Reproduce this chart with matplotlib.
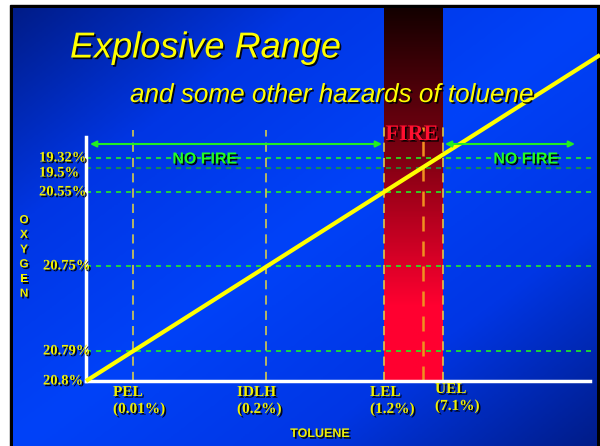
import numpy as np
import matplotlib.pyplot as plt
import matplotlib.patheffects as pe
from matplotlib.colors import LinearSegmentedColormap

# oxygen levels (label, height on the diagram above the origin)
oxygen_labels = ['20.8%', '20.79%', '20.75%', '20.55%', '19.5%', '19.32%']
oxygen_height = [0, 30, 115, 189, 213, 223]

# toluene markers (label, distance along the axis)
toluene_labels = ['PEL\n(0.01%)', 'IDLH\n(0.2%)', 'LEL\n(1.2%)', 'UEL\n(7.1%)']
toluene_pos = [47, 180, 298, 357]
o2_195_pos = 337  # where the line crosses 19.5%

# the yellow line
line_x = [0, 514]
line_y = [0, 326]

fig = plt.figure(figsize=(6, 4.46), dpi=100)
fig.patch.set_facecolor('white')
ax = fig.add_axes([0, 0, 1, 1])
ax.set_xlim(-86, 514)
ax.set_ylim(-65, 381)
ax.axis('off')

shadow = [pe.withSimplePatchShadow(offset=(1.2, -1.2), shadow_rgbFace='black', alpha=0.9)]

# slide frame and background
ax.add_patch(plt.Rectangle((-76, -65), 590, 441, color='black', zorder=0))
W, H = 300, 220
xx, yy = np.meshgrid(np.linspace(0, 1, W), np.linspace(0, 1, H))
u = np.abs(xx + yy - 1)
bg_cmap = LinearSegmentedColormap.from_list('bg', ['#0042f8', '#0036e4', '#001c88'])
ax.imshow(u, cmap=bg_cmap, extent=(-73, 511, -65, 373), origin='upper',
          aspect='auto', zorder=1, vmin=0, vmax=1)

# fire band
fire_cmap = LinearSegmentedColormap.from_list('fire', [(0, '#ff0030'), (0.2, '#ff0030'),
                                                      (0.6, '#800012'), (1, '#140000')])
grad = np.linspace(0, 1, 200).reshape(-1, 1)
ax.imshow(grad, cmap=fire_cmap, extent=(toluene_pos[2], toluene_pos[3], 0, 373),
          origin='lower', aspect='auto', zorder=2)

# horizontal dashed oxygen lines
for lab, h in zip(oxygen_labels[1:], oxygen_height[1:]):
    c = '#1a9a3a' if lab == '19.5%' else '#22ee22'
    ax.plot([0, 509], [h, h], ls=(0, (3, 3)), color=c, lw=1.2, zorder=3)

# vertical dashed marker lines
for name, x in zip(toluene_labels, toluene_pos):
    top = 251 if x < 250 else 254
    ax.plot([x, x], [0, top], ls=(0, (6, 4)), color='#e8d840', lw=1.1, zorder=3)
ax.plot([o2_195_pos, o2_195_pos], [0, 254], ls=(0, (6, 4)), color='#f09020', lw=1.8, zorder=3)

# axes lines
ax.plot([0, 0], [0, 244], color='white', lw=2.5, zorder=4)
ax.plot([0, 504], [0, 0], color='white', lw=2.5, zorder=4)

# main line
ax.plot(line_x, line_y, color='#ffff00', lw=3, zorder=5, solid_capstyle='butt')

# arrows
arr = dict(arrowstyle='<|-|>', color='#22ee22', lw=1.5, mutation_scale=9, shrinkA=0, shrinkB=0)
ax.annotate('', xy=(4, 237), xytext=(296, 237), arrowprops=arr, zorder=5)
ax.annotate('', xy=(359, 237), xytext=(489, 237), arrowprops=arr, zorder=5)

ax.text(119, 222, 'NO FIRE', color='#22ff22', fontsize=11.5, fontweight='bold',
        family='Liberation Sans', ha='center', va='center', zorder=6, path_effects=shadow)
ax.text(440, 222, 'NO FIRE', color='#22ff22', fontsize=11.5, fontweight='bold',
        family='Liberation Sans', ha='center', va='center', zorder=6, path_effects=shadow)
ax.text(326, 246, 'FIRE', color='#ff1030', fontsize=16, fontweight='bold',
        family='Liberation Serif', ha='center', va='center', zorder=6, path_effects=shadow)

# oxygen labels (left aligned, upper group slightly further left)
for lab, h in zip(oxygen_labels, oxygen_height):
    dy = -5 if lab == '19.5%' else 0
    x0 = -47 if h > 150 else -43
    ax.text(x0, h + dy, lab, color='#f0f000', fontsize=10.5, fontweight='bold',
            family='Liberation Serif', ha='left', va='center', zorder=6, path_effects=shadow)

# toluene labels
label_shift = [-20, -29, -14, -8]
for lab, x, dx in zip(toluene_labels, toluene_pos, label_shift):
    top = -2 if lab.startswith('UEL') else -5
    ax.text(x + dx, top, lab, color='#f0f000', fontsize=11, fontweight='bold',
            family='Liberation Serif', ha='left', va='top', zorder=6,
            path_effects=shadow, linespacing=1.35)

# axis titles
ax.text(234, -53, 'TOLUENE', color='#f0f000', fontsize=9, fontweight='bold',
        family='Liberation Sans', ha='center', va='center', zorder=6, path_effects=shadow)
ax.text(-62, 124, '\n'.join('OXYGEN'), color='#f0f000', fontsize=8.5, fontweight='bold',
        family='Liberation Sans', ha='center', va='center', zorder=6,
        path_effects=shadow, linespacing=1.3)

# titles
ax.text(-16, 333, 'Explosive Range', color='#ffff00', fontsize=26, style='italic',
        family='Liberation Sans', ha='left', va='center', zorder=6, path_effects=shadow)
ax.text(44, 286, 'and some other hazards of toluene', color='#ffff00', fontsize=18.8,
        style='italic', family='Liberation Sans', ha='left', va='center', zorder=6,
        path_effects=shadow)

plt.savefig('out.png', dpi=100)
